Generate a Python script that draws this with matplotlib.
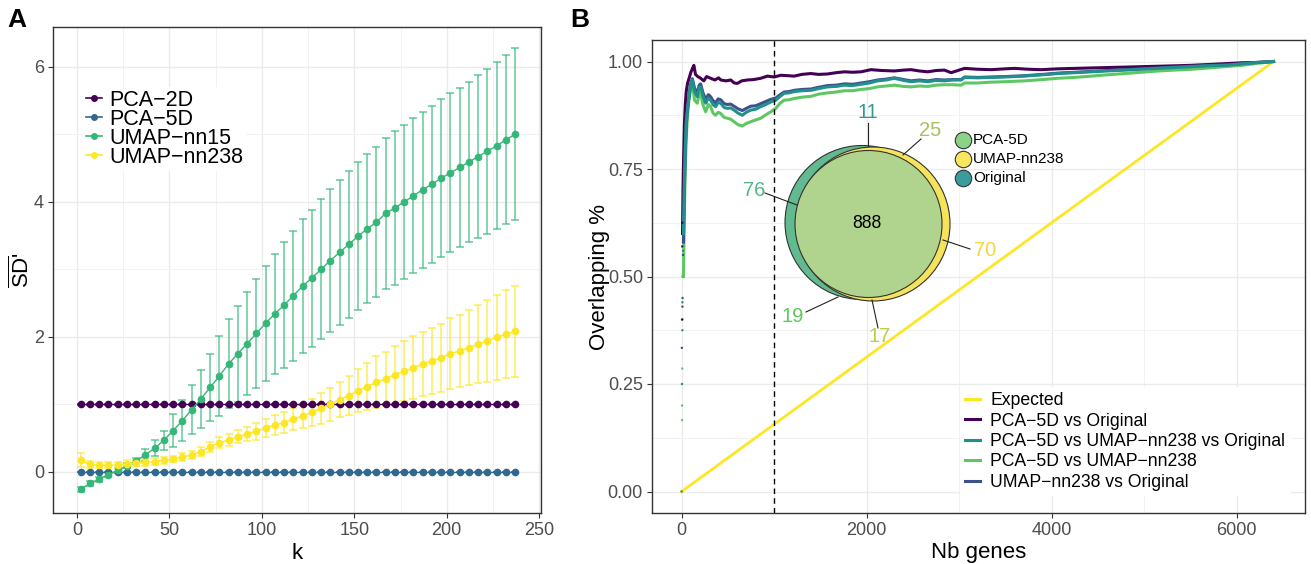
import matplotlib.pyplot as plt
from matplotlib.lines import Line2D
from matplotlib.patches import Circle
from matplotlib.ticker import FixedLocator

plt.rcParams['font.family'] = ['Liberation Sans', 'DejaVu Sans']
plt.rcParams['mathtext.fontset'] = 'custom'
plt.rcParams['mathtext.rm'] = 'Liberation Sans'
plt.rcParams['mathtext.it'] = 'Liberation Sans:italic'

W, H = 1311, 564
MINUS = "\u2212"

# ---------------- panel A data ----------------
k_values = [2, 7, 12, 17, 22, 27, 32, 37, 42, 47, 52, 57, 62, 67, 72, 77,
            82, 87, 92, 97, 102, 107, 112, 117, 122, 127, 132, 137, 142, 147,
            152, 157, 162, 167, 172, 177, 182, 187, 192, 197, 202, 207, 212,
            217, 222, 227, 232, 237]
methods_a = ["PCA-2D", "PCA-5D", "UMAP-nn15", "UMAP-nn238"]
pca2d_mean = [1.0] * 48
pca2d_sd = [0.01] * 48
pca5d_mean = [0.0] * 48
pca5d_sd = [0.0] * 48
nn15_mean = [-0.26, -0.17, -0.11, -0.04, 0.02, 0.09, 0.16, 0.25, 0.35, 0.47,
             0.61, 0.76, 0.92, 1.08, 1.25, 1.42, 1.60, 1.75, 1.90, 2.05,
             2.20, 2.34, 2.47, 2.61, 2.75, 2.87, 3.00, 3.13, 3.25, 3.37,
             3.49, 3.60, 3.70, 3.83, 3.91, 4.00, 4.09, 4.18, 4.26, 4.35,
             4.43, 4.51, 4.59, 4.67, 4.75, 4.83, 4.92, 5.00]
nn15_sd = [0.04, 0.04, 0.04, 0.04, 0.04, 0.04, 0.05, 0.085, 0.115, 0.14,
           0.245, 0.30, 0.36, 0.43, 0.50, 0.59, 0.66, 0.71, 0.76, 0.805,
           0.85, 0.89, 0.93, 0.965, 0.99, 1.015, 1.035, 1.06, 1.075, 1.085,
           1.095, 1.105, 1.115, 1.115, 1.135, 1.14, 1.145, 1.155, 1.16, 1.17,
           1.175, 1.18, 1.19, 1.205, 1.22, 1.24, 1.255, 1.275]
nn238_mean = [0.17, 0.11, 0.10, 0.10, 0.10, 0.12, 0.13, 0.14, 0.15, 0.17,
              0.19, 0.22, 0.25, 0.30, 0.37, 0.43, 0.47, 0.52, 0.56, 0.60,
              0.65, 0.69, 0.73, 0.78, 0.83, 0.88, 0.94, 1.00, 1.07, 1.13,
              1.20, 1.26, 1.33, 1.38, 1.44, 1.49, 1.54, 1.60, 1.64, 1.69,
              1.75, 1.79, 1.84, 1.89, 1.94, 1.99, 2.04, 2.08]
nn238_sd = [0.105, 0.05, 0.05, 0.05, 0.05, 0.05, 0.05, 0.05, 0.05, 0.05,
            0.05, 0.055, 0.06, 0.065, 0.07, 0.08, 0.09, 0.10, 0.11, 0.125,
            0.13, 0.145, 0.155, 0.165, 0.185, 0.205, 0.225, 0.245, 0.265, 0.29,
            0.32, 0.345, 0.39, 0.40, 0.425, 0.445, 0.465, 0.475, 0.49, 0.505,
            0.525, 0.535, 0.56, 0.58, 0.605, 0.63, 0.65, 0.675]
colors_a = ["#440154", "#31688E", "#35B779", "#FDE725"]

# ---------------- panel B data ----------------
series_b = ["Expected", "PCA-5D vs Original", "PCA-5D vs UMAP-nn238 vs Original",
            "PCA-5D vs UMAP-nn238", "UMAP-nn238 vs Original"]
colors_b = ["#FDE725", "#440154", "#21908C", "#5DC863", "#3B528B"]
expected_n = [0, 6400]
expected_frac = [0.0, 1.0]

genes_purple = [10, 15, 20, 30, 40, 50, 65, 80, 100, 120, 133, 150, 175, 206,
                240, 270, 314, 360, 400, 423, 480, 531, 570, 603, 650, 712, 780,
                856, 928, 1000, 1073, 1150, 1217, 1300, 1398, 1480, 1578, 1670,
                1759, 1850, 1939, 2048, 2170, 2300, 2400, 2481, 2570, 2662, 2750,
                2842, 2914, 3059, 3200, 3348, 3500, 3601, 3750, 3889, 4070, 4250,
                4431, 4612, 4800, 4973, 5150, 5334, 5500, 5695, 5880, 6056, 6250,
                6400]
purple_frac = [0.60, 0.70, 0.76, 0.85, 0.90, 0.93, 0.95, 0.96, 0.975, 0.985,
               0.991, 0.970, 0.965, 0.961, 0.955, 0.965, 0.961, 0.957, 0.962, 0.957,
               0.955, 0.957, 0.950, 0.949, 0.955, 0.957, 0.958, 0.961, 0.966, 0.964,
               0.968, 0.967, 0.966, 0.970, 0.972, 0.970, 0.971, 0.974, 0.976, 0.975,
               0.976, 0.981, 0.979, 0.978, 0.980, 0.981, 0.978, 0.976, 0.979, 0.980,
               0.974, 0.984, 0.982, 0.981, 0.983, 0.984, 0.982, 0.981, 0.983, 0.984,
               0.985, 0.986, 0.987, 0.988, 0.989, 0.990, 0.991, 0.993, 0.995, 0.997,
               0.998, 1.000]

genes_main = [20, 30, 40, 50, 60, 70, 80, 95, 116, 140, 170, 190, 206, 230, 260,
              290, 314, 340, 368, 395, 423, 460, 495, 530, 567, 610, 657, 700,
              748, 800, 856, 910, 964, 1018, 1060, 1108, 1160, 1217, 1300, 1398,
              1480, 1578, 1670, 1759, 1850, 1939, 2030, 2120, 2210, 2300, 2400,
              2481, 2570, 2662, 2750, 2842, 2930, 3023, 3059, 3200, 3348, 3500,
              3709, 3900, 4070, 4250, 4431, 4600, 4792, 4970, 5154, 5330, 5515,
              5700, 5875, 6050, 6237, 6400]
teal_frac = [0.60, 0.72, 0.80, 0.86, 0.88, 0.90, 0.92, 0.94,
             0.957, 0.930, 0.918, 0.940, 0.941, 0.920, 0.903, 0.915, 0.910, 0.900,
             0.895, 0.905, 0.903, 0.893, 0.891, 0.892, 0.887, 0.880, 0.875, 0.882,
             0.887, 0.889, 0.895, 0.900, 0.906, 0.910, 0.918, 0.926, 0.927, 0.930,
             0.932, 0.933, 0.937, 0.941, 0.942, 0.945, 0.944, 0.947, 0.950, 0.955,
             0.957, 0.961, 0.956, 0.953, 0.955, 0.953, 0.956, 0.955, 0.957, 0.957,
             0.963, 0.962, 0.963, 0.964, 0.966, 0.969, 0.972, 0.974, 0.976, 0.978,
             0.980, 0.982, 0.984, 0.986, 0.988, 0.990, 0.991, 0.994, 0.998, 1.000]
blue_frac = [0.58, 0.70, 0.79, 0.85, 0.88, 0.90, 0.92, 0.945,
             0.960, 0.938, 0.926, 0.945, 0.948, 0.928, 0.912, 0.923, 0.918, 0.909,
             0.904, 0.913, 0.911, 0.902, 0.900, 0.901, 0.896, 0.890, 0.886, 0.891,
             0.896, 0.897, 0.902, 0.907, 0.912, 0.915, 0.922, 0.929, 0.930, 0.933,
             0.935, 0.936, 0.940, 0.944, 0.945, 0.948, 0.947, 0.950, 0.953, 0.957,
             0.959, 0.962, 0.958, 0.955, 0.957, 0.955, 0.958, 0.957, 0.958, 0.958,
             0.964, 0.963, 0.964, 0.965, 0.967, 0.970, 0.973, 0.975, 0.977, 0.979,
             0.981, 0.983, 0.985, 0.987, 0.989, 0.991, 0.992, 0.995, 0.998, 1.000]
green_frac = [0.50, 0.65, 0.75, 0.82, 0.86, 0.89, 0.91, 0.93,
              0.953, 0.910, 0.903, 0.925, 0.926, 0.900, 0.883, 0.900, 0.895, 0.880,
              0.875, 0.882, 0.879, 0.870, 0.868, 0.866, 0.860, 0.853, 0.850, 0.856,
              0.860, 0.864, 0.868, 0.876, 0.883, 0.891, 0.902, 0.910, 0.911, 0.914,
              0.917, 0.919, 0.924, 0.927, 0.929, 0.932, 0.932, 0.935, 0.937, 0.941,
              0.943, 0.945, 0.942, 0.941, 0.943, 0.942, 0.945, 0.946, 0.946, 0.945,
              0.950, 0.950, 0.952, 0.953, 0.955, 0.958, 0.961, 0.963, 0.966, 0.969,
              0.972, 0.975, 0.978, 0.980, 0.982, 0.985, 0.988, 0.991, 0.996, 1.000]

# first few genes: single dots before the curves settle
dots_n = [1, 3, 4, 5, 6, 7, 8, 9, 9, 10, 11, 12, 13, 14, 15, 16, 5, 7, 8]
dots_frac = [0.0, 0.334, 0.25, 0.20, 0.166, 0.286, 0.375, 0.43, 0.44, 0.40,
             0.45, 0.50, 0.50, 0.50, 0.55, 0.56, 0.40, 0.57, 0.625]
dots_color = ["#21908C", "#3B528B", "#21908C", "#5DC863", "#5DC863", "#5DC863",
              "#21908C", "#3B528B", "#21908C", "#5DC863", "#3B528B", "#5DC863",
              "#21908C", "#5DC863", "#3B528B", "#21908C", "#440154", "#440154",
              "#440154"]

# venn counts
venn_center = 888
venn_labels = ["11", "25", "76", "70", "19", "17"]
venn_label_colors = ["#2E9A9A", "#A5C163", "#4FB985", "#F1D73F", "#5BC95B", "#B5D04A"]
venn_sets = ["PCA-5D", "UMAP-nn238", "Original"]
venn_set_colors = ["#8AD48A", "#F7E75E", "#3A9D9D"]


def px_axes(fig, left, top, right, bottom):
    return fig.add_axes([left / W, 1 - bottom / H, (right - left) / W, (bottom - top) / H])


def style_panel(ax):
    for s in ax.spines.values():
        s.set_color("#333333")
        s.set_linewidth(1.0)
    ax.grid(True, which="major", color="#EBEBEB", lw=1.0, zorder=0)
    ax.grid(True, which="minor", color="#F2F2F2", lw=0.7, zorder=0)
    ax.set_axisbelow(True)
    ax.tick_params(which="major", labelsize=13, labelcolor="#4D4D4D",
                   color="#333333", length=3.5, width=0.8, pad=3)
    ax.tick_params(which="minor", length=0)


def panel_a(fig):
    ax = px_axes(fig, 53, 27, 541, 513)
    means = [pca2d_mean, pca5d_mean, nn15_mean, nn238_mean]
    sds = [pca2d_sd, pca5d_sd, nn15_sd, nn238_sd]
    for name, m, sd, c in zip(methods_a, means, sds, colors_a):
        line, caps, bars = ax.errorbar(k_values, m, yerr=sd, color=c, marker="o",
                                       ms=4.5, lw=1.0, elinewidth=1.1, capsize=2.6,
                                       capthick=1.1, zorder=3)
        for b in bars:
            b.set_alpha(0.75)
        for cp in caps:
            cp.set_alpha(0.75)
    ax.set_xlim(-13, 251)
    ax.set_ylim(-0.61, 6.59)
    ax.xaxis.set_major_locator(FixedLocator([0, 50, 100, 150, 200, 250]))
    ax.xaxis.set_minor_locator(FixedLocator([25, 75, 125, 175, 225]))
    ax.yaxis.set_major_locator(FixedLocator([0, 2, 4, 6]))
    ax.yaxis.set_minor_locator(FixedLocator([1, 3, 5]))
    style_panel(ax)
    ax.set_xlabel("k", fontsize=16, labelpad=3)
    ax.set_ylabel(r"$\overline{\mathrm{SD}}$'", fontsize=16, labelpad=0)

    handles = [Line2D([0], [0], color=c, marker="o", ms=4, lw=1.2) for c in colors_a]
    labels = [m.replace("-", MINUS) for m in methods_a]
    leg = ax.legend(handles, labels, loc="upper left", bbox_to_anchor=(0.062, 0.877),
                    fontsize=15.5, frameon=True, framealpha=1, edgecolor="none",
                    facecolor="white", borderpad=0.15, labelspacing=-0.1,
                    handlelength=0.7, handletextpad=0.35, borderaxespad=0)
    leg.get_frame().set_linewidth(0)
    fig.text(7 / W, 1 - 8 / H, "A", fontsize=19, fontweight="bold", va="top", ha="left")


def panel_b(fig):
    ax = px_axes(fig, 652, 40, 1305, 513)
    ax.plot(expected_n, expected_frac, color=colors_b[0], lw=2.0, zorder=3)
    ax.plot(genes_purple, purple_frac, color=colors_b[1], lw=2.2, zorder=3)
    ax.plot(genes_main, green_frac, color=colors_b[3], lw=2.2, zorder=3)
    ax.plot(genes_main, blue_frac, color=colors_b[4], lw=2.2, zorder=3)
    ax.plot(genes_main, teal_frac, color=colors_b[2], lw=2.2, zorder=3)
    ax.scatter(dots_n, dots_frac, s=3, c=dots_color, zorder=3, linewidths=0)
    ax.axvline(1000, color="black", lw=1.0, ls=(0, (4, 3)), zorder=4)

    ax.set_xlim(-320, 6740)
    ax.set_ylim(-0.05, 1.05)
    ax.xaxis.set_major_locator(FixedLocator([0, 2000, 4000, 6000]))
    ax.xaxis.set_minor_locator(FixedLocator([1000, 3000, 5000]))
    ax.yaxis.set_major_locator(FixedLocator([0, 0.25, 0.5, 0.75, 1.0]))
    ax.yaxis.set_minor_locator(FixedLocator([0.125, 0.375, 0.625, 0.875]))
    ax.set_yticklabels(["0.00", "0.25", "0.50", "0.75", "1.00"])
    style_panel(ax)
    ax.set_xlabel("Nb genes", fontsize=16, labelpad=2)
    ax.set_ylabel("Overlapping %", fontsize=16, labelpad=-2)

    handles = [Line2D([0], [0], color=c, lw=2.2) for c in colors_b]
    labels = [s.replace("-", MINUS) for s in series_b]
    leg = ax.legend(handles, labels, loc="lower right", bbox_to_anchor=(0.978, 0.036),
                    fontsize=12.7, frameon=True, framealpha=1, edgecolor="none",
                    facecolor="white", borderpad=0.3, labelspacing=0.19,
                    handlelength=0.85, handletextpad=0.57, borderaxespad=0)
    leg.get_frame().set_linewidth(0)
    fig.text(570 / W, 1 - 8 / H, "B", fontsize=19, fontweight="bold", va="top", ha="left")


def venn_inset(fig):
    # inset drawn in pixel units so the circles stay round
    vx = px_axes(fig, 740, 95, 1070, 345)
    vx.set_xlim(740, 1070)
    vx.set_ylim(345, 95)
    vx.axis("off")
    vx.patch.set_alpha(0)
    vx.add_patch(Circle((862, 222.5), 77, facecolor="#62BA90", edgecolor="#333333", lw=0.8))
    vx.add_patch(Circle((873, 224), 77, facecolor="#F5E35B", edgecolor="#333333", lw=0.8))
    vx.add_patch(Circle((868.5, 224), 73.5, facecolor="#B0D38E", edgecolor="#333333", lw=0.8))
    vx.text(867, 224, str(venn_center), fontsize=12.7, ha="center", va="center")

    pos = [(868, 112), (930, 131), (754, 191), (985, 251), (793, 317), (880, 337)]
    seg = [((868, 123), (868, 146)), ((921, 139), (903, 155)), ((765, 193), (797, 205)),
           ((970, 249), (943, 240)), ((806, 312), (838, 297)), ((878, 328), (872, 300))]
    for lab, c, p, s in zip(venn_labels, venn_label_colors, pos, seg):
        vx.text(p[0], p[1], lab, color=c, fontsize=14.5, ha="center", va="center")
        vx.plot([s[0][0], s[1][0]], [s[0][1], s[1][1]], color="#222222", lw=0.8)

    for i, (name, c) in enumerate(zip(venn_sets, venn_set_colors)):
        y = 140 + i * 19
        vx.scatter([963], [y], s=140, color=c, edgecolors="#333333", linewidths=0.8,
                   clip_on=False, zorder=5)
        vx.text(973, y, name, fontsize=11, ha="left", va="center")


if __name__ == "__main__":
    fig = plt.figure(figsize=(W / 100, H / 100), dpi=100)
    panel_a(fig)
    panel_b(fig)
    venn_inset(fig)
    fig.savefig("out.png", dpi=100)
